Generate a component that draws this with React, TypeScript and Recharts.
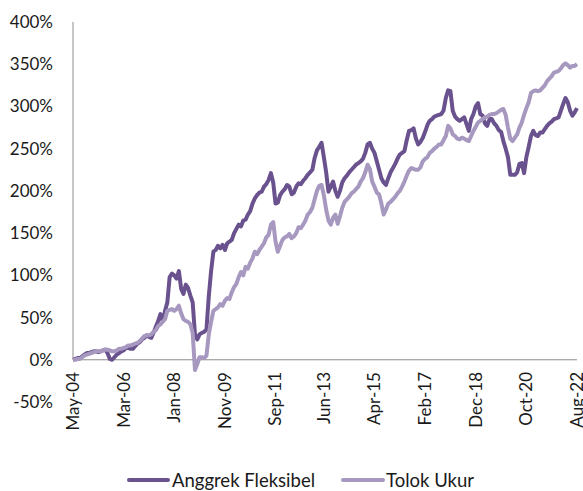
import React from 'react';
import { LineChart, Line, XAxis, YAxis, ReferenceLine, Legend } from 'recharts';

const MONTH_NAMES = ['Jan','Feb','Mar','Apr','May','Jun','Jul','Aug','Sep','Oct','Nov','Dec'];
const START_YEAR = 2004;
const START_MONTH = 4; // May
const N_MONTHS = 220;

const dates: string[] = Array.from({ length: N_MONTHS }, (_, i) => {
  const m = START_MONTH + i;
  const yr = START_YEAR + Math.floor(m / 12);
  return `${MONTH_NAMES[m % 12]}-${String(yr % 100).padStart(2, '0')}`;
});

const tickLabels = ['May-04','Mar-06','Jan-08','Nov-09','Sep-11','Jun-13','Apr-15','Feb-17','Dec-18','Oct-20','Aug-22'];
const yTicks = [-50, 0, 50, 100, 150, 200, 250, 300, 350, 400];

const anggrek = [
  0,1,2,2,4,6,8,8,9,10,
  10,9,10,11,12,8,1,0,3,6,
  8,10,11,14,14,13,13,16,19,21,
  24,26,29,27,26,32,39,46,54,46,
  58,68,98,102,100,96,105,84,78,89,
  85,76,68,30,24,30,32,33,36,75,
  105,128,130,135,132,136,130,138,140,142,
  150,155,160,158,165,166,172,176,185,191,
  195,198,199,205,208,213,221,210,185,186,
  195,199,202,207,205,196,198,205,209,208,
  212,215,219,222,225,239,248,252,257,240,
  222,199,205,211,200,193,200,210,215,218,
  222,225,228,231,233,235,238,245,255,257,
  250,245,235,225,215,210,207,215,222,227,
  232,238,243,245,247,260,271,272,274,262,
  255,258,263,270,278,283,285,288,289,290,
  291,295,310,319,318,295,288,285,283,285,
  287,279,271,285,291,300,304,291,289,280,
  277,285,285,280,277,272,270,259,250,240,
  219,219,219,222,232,233,221,240,252,265,
  271,266,265,269,269,273,277,280,282,285,
  286,287,295,303,310,305,295,289,293,298,
];

const tolokUkur = [
  0,0,1,1,3,5,6,7,8,9,
  10,10,10,11,12,12,11,10,10,11,
  13,13,14,15,17,17,18,19,20,22,
  25,28,29,29,30,33,35,40,42,45,
  48,58,59,60,58,60,64,55,48,46,
  45,42,32,-12,-5,3,3,2,5,30,
  45,58,60,62,66,64,70,73,72,80,
  86,90,98,104,100,110,108,115,120,128,
  125,130,134,138,145,148,160,163,140,128,
  135,142,145,146,149,144,146,150,157,156,
  160,165,172,175,180,190,200,206,207,195,
  178,165,160,168,172,161,170,180,187,190,
  193,197,199,202,205,211,215,222,231,226,
  211,205,198,196,185,172,178,185,187,190,
  193,197,200,205,211,218,224,227,226,225,
  225,228,235,238,240,245,247,250,252,255,
  255,260,265,277,274,267,265,262,261,263,
  262,260,259,265,271,276,281,283,285,287,
  288,290,291,291,292,294,296,297,290,275,
  262,259,263,267,275,281,290,298,305,316,
  318,319,318,319,322,325,330,333,336,340,
  341,342,345,349,351,349,346,348,348,350,
];

const data = dates.map((d, i) => ({ date: d, anggrek: anggrek[i], tolok: tolokUkur[i] }));

const DARK = '#6A528F';
const LIGHT = '#A798C0';
const AXIS = '#8C8C8C';
const TEXT = '#1a1a1a';
const FONT = 'Lato, "Open Sans", sans-serif';

const XTick = (props: any) => {
  const { x, y, payload } = props;
  const ay = y - 30;
  return (
    <text
      x={x}
      y={ay}
      transform={`rotate(-90, ${x}, ${ay})`}
      textAnchor="end"
      dy="0.35em"
      fontSize={17}
      fontFamily={FONT}
      fill={TEXT}
    >
      {payload.value}
    </text>
  );
};

const LegendContent = () => (
  <div style={{ display: 'flex', alignItems: 'center', paddingLeft: 127, fontFamily: FONT, fontSize: 18.5, color: TEXT, lineHeight: '22px', height: 22, whiteSpace: 'nowrap' }}>
    <span style={{ display: 'inline-block', width: 43, height: 4, background: DARK, borderRadius: 2 }} />
    <span style={{ marginLeft: 2 }}>Anggrek Fleksibel</span>
    <span style={{ display: 'inline-block', width: 44, height: 4, background: LIGHT, borderRadius: 2, marginLeft: 26 }} />
    <span style={{ marginLeft: 1 }}>Tolok Ukur</span>
  </div>
);

export default function App() {
  return (
    <div style={{ position: 'absolute', left: 0, top: 0, width: 583, height: 491, background: '#fff' }}>
      <LineChart width={583} height={491} data={data} margin={{ top: 22, right: 6, left: 0, bottom: 0 }}>
        <XAxis
          dataKey="date"
          ticks={tickLabels}
          interval={0}
          axisLine={false}
          tickLine={false}
          tickSize={0}
          tickMargin={0}
          height={89}
          tick={<XTick />}
        />
        <YAxis
          width={73}
          domain={[-50, 400]}
          ticks={yTicks}
          tickFormatter={(v: number) => `${v}%`}
          axisLine={false}
          tickLine={false}
          tickSize={0}
          tickMargin={20}
          tick={{ fontSize: 17, fill: TEXT, fontFamily: FONT }}
        />
        <ReferenceLine y={0} stroke={AXIS} strokeWidth={1} />
        <ReferenceLine
          segment={[{ x: dates[0], y: 0 }, { x: dates[0], y: 400 }]}
          stroke={AXIS}
          strokeWidth={1}
        />
        <Line type="linear" dataKey="anggrek" name="Anggrek Fleksibel" stroke={DARK} strokeWidth={4} dot={false} isAnimationActive={false} strokeLinejoin="round" />
        <Line type="linear" dataKey="tolok" name="Tolok Ukur" stroke={LIGHT} strokeWidth={4} dot={false} isAnimationActive={false} strokeLinejoin="round" />
        <Legend
          layout="horizontal"
          verticalAlign="middle"
          align="center"
          content={<LegendContent />}
          wrapperStyle={{ top: 469, left: 0, width: 583, height: 22, overflow: 'visible' }}
        />
      </LineChart>
    </div>
  );
}
